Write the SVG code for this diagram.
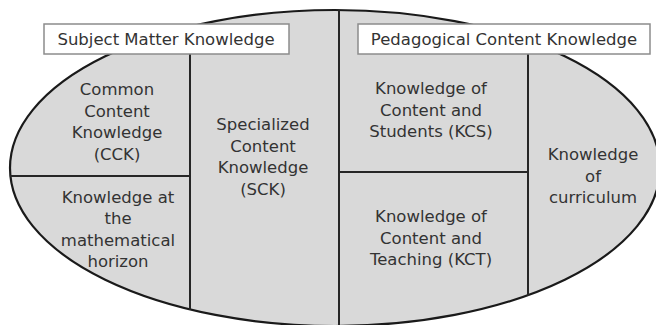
<svg xmlns="http://www.w3.org/2000/svg" width="656" height="325" viewBox="0 0 656 325">
  <style>
    .area { fill: #d9d9d9; stroke: #1a1a1a; stroke-width: 2.2; }
    .divider { stroke: #262626; stroke-width: 2; fill: none; }
    .title-box { fill: #ffffff; stroke: #8c8c8c; stroke-width: 1.5; }
    text { font-family: "DejaVu Sans", Verdana, sans-serif; font-size: 16.5px; fill: #333333; text-anchor: middle; }
  </style>
  <rect width="656" height="325" fill="#ffffff"/>

  <!-- outer knowledge domain -->
  <ellipse class="area" cx="335" cy="168" rx="325" ry="158"/>

  <!-- dividing lines between domains -->
  <g id="connectors">
    <line class="divider" x1="339" y1="10" x2="339" y2="325"/>
    <line class="divider" x1="190" y1="54" x2="190" y2="310"/>
    <line class="divider" x1="10" y1="176" x2="190" y2="176"/>
    <line class="divider" x1="528" y1="54" x2="528" y2="296"/>
    <line class="divider" x1="339" y1="172" x2="528" y2="172"/>
  </g>

  <g id="smk">
    <rect class="title-box" x="44" y="24" width="245" height="30"/>
    <text x="166" y="45">Subject Matter Knowledge</text>
  </g>

  <g id="pck">
    <rect class="title-box" x="358" y="24" width="292" height="30"/>
    <text x="504" y="45">Pedagogical Content Knowledge</text>
  </g>

  <g id="cck">
    <text x="117" y="95">Common</text>
    <text x="117" y="116.5">Content</text>
    <text x="117" y="138">Knowledge</text>
    <text x="117" y="159.5">(CCK)</text>
  </g>

  <g id="horizon">
    <text x="118" y="203">Knowledge at</text>
    <text x="118" y="224">the</text>
    <text x="118" y="245.5">mathematical</text>
    <text x="118" y="267">horizon</text>
  </g>

  <g id="sck">
    <text x="263" y="130">Specialized</text>
    <text x="263" y="151.5">Content</text>
    <text x="263" y="173">Knowledge</text>
    <text x="263" y="194.5">(SCK)</text>
  </g>

  <g id="kcs">
    <text x="431" y="94">Knowledge of</text>
    <text x="431" y="115.5">Content and</text>
    <text x="431" y="137">Students (KCS)</text>
  </g>

  <g id="kct">
    <text x="431" y="222">Knowledge of</text>
    <text x="431" y="243.5">Content and</text>
    <text x="431" y="265">Teaching (KCT)</text>
  </g>

  <g id="curriculum">
    <text x="593" y="160">Knowledge</text>
    <text x="593" y="181.5">of</text>
    <text x="593" y="203">curriculum</text>
  </g>
</svg>
